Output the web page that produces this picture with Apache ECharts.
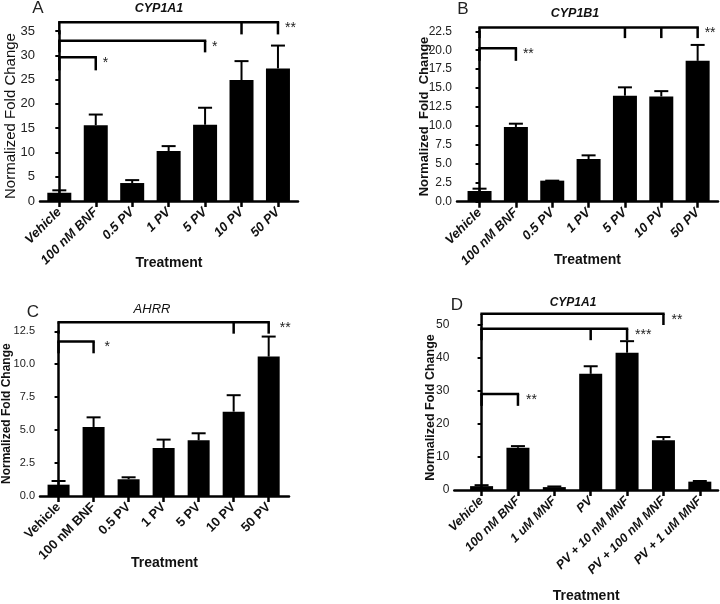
<!DOCTYPE html>
<html><head><meta charset="utf-8">
<script src="https://cdn.jsdelivr.net/npm/echarts@6/dist/echarts.min.js"></script>
<style>html,body{margin:0;padding:0;background:#fff}#c{width:720px;height:604px}</style>
</head><body><div id="c"></div>
<script>
// ---- data ----
const catsPV  = ['Vehicle', '100 nM BNF', '0.5 PV', '1 PV', '5 PV', '10 PV', '50 PV'];
const catsMNF = ['Vehicle', '100 nM BNF', '1 uM MNF', 'PV', 'PV + 10 nM MNF', 'PV + 100 nM MNF', 'PV + 1 uM MNF'];

const meanA = [1.7, 15.6, 3.7, 10.3, 15.7, 24.9, 27.3];
const topA  = [2.2, 17.8, 4.3, 11.3, 19.2, 28.8, 32.0];
const meanB = [1.41, 9.87, 2.78, 5.64, 14.0, 13.9, 18.6];
const topB  = [1.72, 10.3, 2.78, 6.12, 15.1, 14.6, 20.7];
const meanC = [0.86, 5.24, 1.27, 3.65, 4.23, 6.4, 10.58];
const topC  = [1.14, 5.97, 1.42, 4.28, 4.76, 7.65, 12.1];
const meanD = [1.17, 12.8, 0.88, 35.2, 41.6, 15.1, 2.53];
const topD  = [1.46, 13.3, 1.07, 37.5, 45.1, 16.05, 2.72];

// significance brackets: [from index, [drop indices], bracket level, drop level, label]
const sigA = [[0, [5, 6], 36.8, 34.3, '**'], [0, [4], 33.0, 30.6, '*'], [0, [1], 29.6, 26.9, '*']];
const sigB = [[0, [4, 5, 6], 23.0, 21.6, '**'], [0, [1], 20.25, 18.6, '**']];
const sigC = [[0, [5, 6], 13.18, 12.32, '**'], [0, [1], 11.72, 10.83, '*']];
const sigD = [[0, [5], 53.4, 50.0, '**'], [0, [3, 4], 48.83, 45.4, '***'], [0, [1], 29.1, 25.5, '**']];

const titles = ['CYP1A1', 'CYP1B1', 'AHRR', 'CYP1A1'];
const letters = ['A', 'B', 'C', 'D'];
const yName = ['Normalized Fold Change', 'Normalized  Fold  Change', 'Normalized Fold Change', 'Normalized Fold Change'];
const xName = 'Treatment';

// ---- layout ----
const FONT = '"Liberation Sans", Arial, sans-serif';
const panels = [
  { cats: catsPV, mean: meanA, top: topA, sig: sigA,
    grid: { left: 40, top: 31, width: 258, height: 170 }, xMin: -0.53, xMax: 6.55,
    yMax: 35, yInt: 5, dec: 0, yLabelSize: 13, yNameStyle: { fontSize: 15, fontWeight: 'normal' }, yNameGap: 22,
    xLabelSize: 13, xLabelItalic: 'italic', xNameGap: 55, barW: 24, starGap: 7,
    title: { x: 159, y: 9, font: 'italic bold 12.5px ' + FONT }, letter: { x: 38, y: 8 } },
  { cats: catsPV, mean: meanB, top: topB, sig: sigB,
    grid: { left: 457, top: 31.3, width: 261, height: 170.4 }, xMin: -0.62, xMax: 6.56,
    yMax: 22.5, yInt: 2.5, dec: 1, yLabelSize: 12, yNameStyle: { fontSize: 13, fontWeight: 'bold' }, yNameGap: 26,
    xLabelSize: 13, xLabelItalic: 'italic', xNameGap: 51, barW: 24, starGap: 7,
    title: { x: 575, y: 14, font: 'italic bold 12.5px ' + FONT }, letter: { x: 463, y: 9 } },
  { cats: catsPV, mean: meanC, top: topC, sig: sigC,
    grid: { left: 40, top: 331.3, width: 249, height: 164.7 }, xMin: -0.53, xMax: 6.58,
    yMax: 12.5, yInt: 2.5, dec: 1, yLabelSize: 11, yNameStyle: { fontSize: 12, fontWeight: 'bold' }, yNameGap: 27,
    xLabelSize: 13, xLabelItalic: 'normal', xNameGap: 60, barW: 22, starGap: 11,
    title: { x: 152, y: 309, font: 'italic 13px ' + FONT }, letter: { x: 33, y: 312 } },
  { cats: catsMNF, mean: meanD, top: topD, sig: sigD,
    grid: { left: 454.3, top: 325, width: 263.7, height: 171.3 }, xMin: -0.75, xMax: 6.5,
    yMax: 50, yInt: 10, dec: 0, yLabelSize: 12, yNameStyle: { fontSize: 12.5, fontWeight: 'bold' }, yNameGap: 17,
    xLabelSize: 12.5, xLabelItalic: 'italic', xNameGap: 99, barW: 23, starGap: 8,
    title: { x: 573, y: 303, font: 'italic bold 12px ' + FONT }, letter: { x: 457, y: 305 } }
];

const grids = [], xAxes = [], yAxes = [], series = [], graphics = [];
const idx = [0, 1, 2, 3, 4, 5, 6];

panels.forEach((p, k) => {
  grids.push(Object.assign({ containLabel: false }, p.grid));
  xAxes.push({
    type: 'value', gridIndex: k, min: p.xMin, max: p.xMax,
    name: xName, nameLocation: 'middle', nameGap: p.xNameGap, nameMoveOverlap: false,
    nameTextStyle: { fontFamily: FONT, fontWeight: 'bold', fontSize: 14, color: '#111' },
    axisLine: { show: true, onZero: false, lineStyle: { color: '#000', width: 2.5 } },
    axisTick: { show: true, customValues: idx, length: 6, lineStyle: { color: '#000', width: 2.5 } },
    axisLabel: { customValues: idx, rotate: 45, margin: 9, fontFamily: FONT, fontWeight: 'bold',
      fontStyle: p.xLabelItalic, fontSize: p.xLabelSize, color: '#111',
      formatter: v => p.cats[Math.round(v)] },
    splitLine: { show: false }
  });
  yAxes.push({
    type: 'value', gridIndex: k, min: 0, max: p.yMax, interval: p.yInt,
    name: yName[k], nameLocation: 'middle', nameGap: p.yNameGap, nameMoveOverlap: false,
    nameTextStyle: Object.assign({ fontFamily: FONT, color: '#111' }, p.yNameStyle),
    axisLine: { show: true, lineStyle: { color: '#000', width: 2.5 } },
    axisTick: { show: true, length: 4, lineStyle: { color: '#000', width: 2 } },
    axisLabel: { margin: 5, fontFamily: FONT, fontSize: p.yLabelSize, color: '#222',
      formatter: v => v.toFixed(p.dec) },
    splitLine: { show: false }
  });
  series.push({
    type: 'bar', xAxisIndex: k, yAxisIndex: k, barWidth: p.barW,
    itemStyle: { color: '#000' }, silent: true,
    data: p.mean.map((v, i) => [i, v])
  });
  series.push({
    type: 'custom', xAxisIndex: k, yAxisIndex: k, clip: false, silent: true, z: 5,
    data: p.mean.map((v, i) => [i, v, p.top[i]]),
    renderItem: (params, api) => {
      const i = api.value(0);
      const b = api.coord([i, api.value(1)]);
      const t = api.coord([i, api.value(2)]);
      const st = { stroke: '#000', lineWidth: 2 };
      return { type: 'group', children: [
        { type: 'line', shape: { x1: t[0], y1: b[1], x2: t[0], y2: t[1] }, style: st },
        { type: 'line', shape: { x1: t[0] - 7, y1: t[1], x2: t[0] + 7, y2: t[1] }, style: st }
      ] };
    }
  });
  series.push({
    type: 'custom', xAxisIndex: k, yAxisIndex: k, clip: false, silent: true, z: 6,
    data: p.sig.map((s, j) => [j, s[2]]),
    renderItem: (params, api) => {
      const s = p.sig[params.dataIndex];
      const drops = [s[0]].concat(s[1]);
      const end = Math.max.apply(null, drops);
      const a = api.coord([s[0], s[2]]);
      const e = api.coord([end, s[2]]);
      const st = { stroke: '#000', lineWidth: 2.5 };
      const ch = [{ type: 'line', shape: { x1: a[0] - 1.2, y1: a[1], x2: e[0] + 1.2, y2: e[1] }, style: st }];
      drops.forEach(d => {
        const u = api.coord([d, s[2]]);
        const l = api.coord([d, s[3]]);
        ch.push({ type: 'line', shape: { x1: u[0], y1: u[1], x2: l[0], y2: l[1] }, style: st });
      });
      ch.push({ type: 'text', x: e[0] + p.starGap, y: e[1] + 6,
        style: { text: s[4], font: '14px ' + FONT, fill: '#222', align: 'left', verticalAlign: 'middle',
          textAlign: 'left', textVerticalAlign: 'middle' } });
      return { type: 'group', children: ch };
    }
  });
  graphics.push({ type: 'text', x: p.title.x, y: p.title.y, silent: true,
    style: { text: titles[k], font: p.title.font, fill: '#111', align: 'center', verticalAlign: 'middle',
      textAlign: 'center', textVerticalAlign: 'middle' } });
  graphics.push({ type: 'text', x: p.letter.x, y: p.letter.y, silent: true,
    style: { text: letters[k], font: '17px ' + FONT, fill: '#222', align: 'center', verticalAlign: 'middle',
      textAlign: 'center', textVerticalAlign: 'middle' } });
});

const chart = echarts.init(document.getElementById('c'), null, { renderer: 'canvas' });
chart.setOption({
  backgroundColor: '#fff', animation: false,
  grid: grids, xAxis: xAxes, yAxis: yAxes, series: series, graphic: graphics
});
</script>
</body></html>
